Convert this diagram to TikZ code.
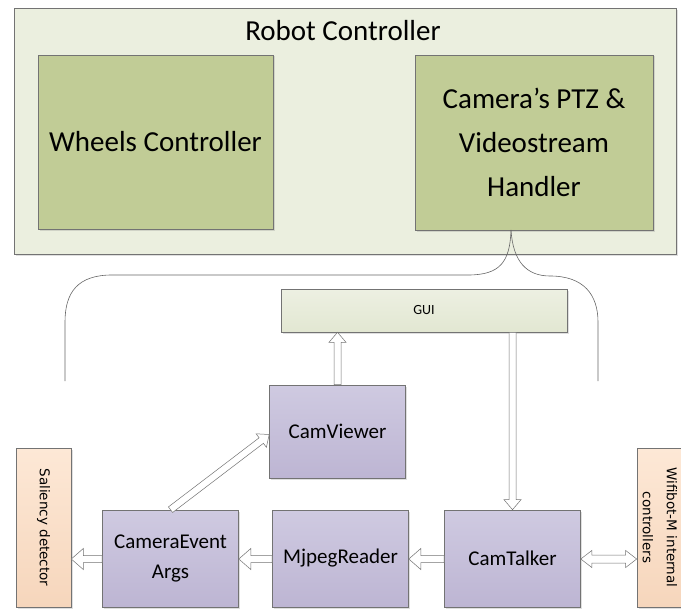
\documentclass[tikz,border=0pt]{standalone}
\usepackage{fontspec}
\setmainfont{Carlito}
\newfontfamily\extfont{DejaVu Sans}
\usetikzlibrary{calc,shadows}

% hollow block arrow from #2 to #3, #1 = half width of the head
\newcommand{\hollowarrow}[3][8.5pt]{%
  \path (#2) coordinate (ha-s) (#3) coordinate (ha-e);
  \coordinate (ha-b) at ($(ha-e)!#1+1.5pt!(ha-s)$);
  \draw[hollow] ($(ha-s)!3.5pt!90:(ha-e)$) -- ($(ha-b)!3.5pt!90:(ha-e)$)
    -- ($(ha-b)!#1!90:(ha-e)$) -- (ha-e) -- ($(ha-b)!#1!-90:(ha-e)$)
    -- ($(ha-b)!3.5pt!-90:(ha-e)$) -- ($(ha-s)!3.5pt!-90:(ha-e)$) -- cycle;
}
% hollow block arrow with heads at both ends
\newcommand{\hollowboth}[2]{%
  \path (#1) coordinate (ha-s) (#2) coordinate (ha-e);
  \coordinate (ha-b) at ($(ha-e)!11pt!(ha-s)$);
  \coordinate (ha-a) at ($(ha-s)!11pt!(ha-e)$);
  \draw[hollow] (ha-s) -- ($(ha-a)!8.5pt!90:(ha-e)$) -- ($(ha-a)!4pt!90:(ha-e)$)
    -- ($(ha-b)!4pt!90:(ha-e)$) -- ($(ha-b)!8.5pt!90:(ha-e)$) -- (ha-e)
    -- ($(ha-b)!8.5pt!-90:(ha-e)$) -- ($(ha-b)!4pt!-90:(ha-e)$)
    -- ($(ha-a)!4pt!-90:(ha-e)$) -- ($(ha-a)!8.5pt!-90:(ha-e)$) -- cycle;
}

\begin{document}
\begin{tikzpicture}[x=1pt, y=-1pt,
  box/.style={draw=black!55, line width=0.6pt, inner sep=2pt, align=center,
    drop shadow={shadow xshift=1.5pt, shadow yshift=-1.5pt, opacity=0.25}},
  outerbox/.style={box, fill=outerfill, anchor=north west},
  greenbox/.style={box, fill=ctrlgreen, font=\fontsize{29}{44}\selectfont},
  guibox/.style={box, top color=guitop, bottom color=guibot, font=\fontsize{14}{16}\selectfont},
  classbox/.style={box, top color=classtop, bottom color=classbot, font=\fontsize{21}{30}\selectfont},
  extbox/.style={box, top color=exttop, bottom color=extbot, font=\extfont\fontsize{13.5}{24}\selectfont},
  hollow/.style={draw=black!55, line width=0.5pt, fill=white, line join=miter},
  brace/.style={draw=black!60, line width=0.6pt}]
% Define colors
\definecolor{outerfill}{RGB}{235, 239, 223}
\definecolor{ctrlgreen}{RGB}{193, 204, 150}
\definecolor{guitop}{RGB}{237, 240, 226}
\definecolor{guibot}{RGB}{226, 231, 210}
\definecolor{classtop}{RGB}{207, 202, 225}
\definecolor{classbot}{RGB}{189, 181, 211}
\definecolor{exttop}{RGB}{253, 232, 214}
\definecolor{extbot}{RGB}{246, 214, 188}

\useasboundingbox (0,0) rectangle (681,610);

% Robot controller and its parts
\node[outerbox, minimum width=662pt, minimum height=246pt] (robot) at (14,8) {};
\node[font=\fontsize{29}{32}\selectfont] (robottitle) at (343,31) {Robot Controller};
\node[greenbox, minimum width=235pt, minimum height=174pt] (wheels) at (155.5,142) {Wheels Controller};
\node[greenbox, minimum width=238pt, minimum height=175pt] (ptz) at (534,142.5) {Camera's PTZ \&\\Videostream\\Handler};

% Brace below the PTZ handler
\coordinate (bracetip) at (511,230);
\draw[brace] (bracetip) .. controls (510,262) and (500,275) .. (468,275) -- (112,275)
  .. controls (78,275) and (65,292) .. (65,322) -- (65,381);
\draw[brace] (bracetip) .. controls (513,262) and (527,276) .. (550,276)
  .. controls (584,276) and (598,295) .. (598,322) -- (598,381);

% GUI and classes
\node[guibox, minimum width=286pt, minimum height=43pt] (gui) at (424,310.5) {GUI};
\node[classbox, minimum width=136pt, minimum height=93pt] (camviewer) at (337.5,431.5) {CamViewer};
\node[classbox, minimum width=136pt, minimum height=97pt] (cameraevent) at (170.5,558.5) {CameraEvent\\Args};
\node[classbox, minimum width=136pt, minimum height=97pt] (mjpeg) at (340.5,558.5) {MjpegReader};
\node[classbox, minimum width=136pt, minimum height=97pt] (camtalker) at (512.5,558.5) {CamTalker};

% External components
\node[extbox, minimum width=159pt, minimum height=55pt, rotate=-90] (saliency) at (43.5,527.5) {Saliency detector};
\node[extbox, minimum width=159pt, minimum height=46pt, rotate=-90] (wifibot) at (660,527.5) {Wifibot-M internal\\controllers};

% Data flow
\hollowarrow{camviewer.north}{camviewer.north |- gui.south}
\hollowarrow{gui.south -| camtalker.north}{camtalker.north}
\hollowarrow{cameraevent.north}{$(camviewer.west)+(0,3)$}
\hollowarrow[10.5pt]{camtalker.west |- 0,559}{mjpeg.east |- 0,559}
\hollowarrow[10.5pt]{mjpeg.west |- 0,559}{cameraevent.east |- 0,559}
\hollowarrow[10.5pt]{cameraevent.west |- 0,559}{saliency.north |- 0,559}
\hollowboth{camtalker.east |- 0,559}{wifibot.south |- 0,559}

\end{tikzpicture}
\end{document}
